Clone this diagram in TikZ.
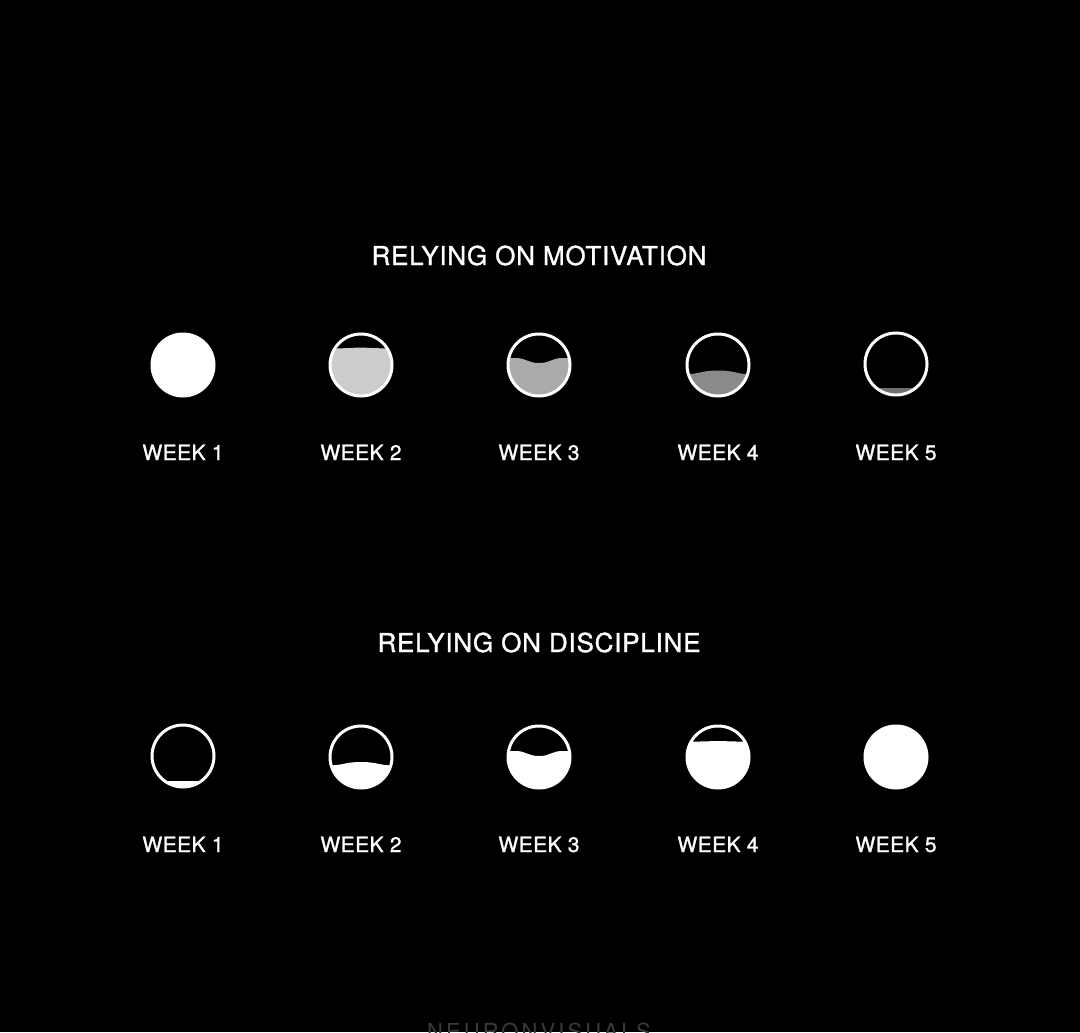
\documentclass[tikz,border=0pt]{standalone}
\usepackage{fontspec}
\setmainfont{TeX Gyre Heros}[FakeBold=1.2,LetterSpace=2]
\newfontfamily\titlefont{TeX Gyre Heros}[LetterSpace=3,FakeBold=1.2]
\newfontfamily\markfont{TeX Gyre Heros}[LetterSpace=14]
\usepackage{xcolor}
\usepackage{tikz}

\definecolor{fillA}{HTML}{CCCCCC}
\definecolor{fillB}{HTML}{AAAAAA}
\definecolor{fillC}{HTML}{8A8A8A}
\definecolor{fillD}{HTML}{6E6E6E}
\definecolor{markgray}{HTML}{3A3A3A}

% a glass: centre x, centre y, name, surface above centre, wave height, wave half-width, colour
\newcommand{\glass}[7]{%
  \coordinate (#3) at (#1,#2);
  \begin{scope}[shift={(#1,#2)}]
    \clip (0,0) circle (15pt);
    \fill[#7] (-40,-#4) -- (-#6,-#4)
      .. controls ({-(#6)/2},-#4) and ({-(#6)/2},{-(#4)-(#5)}) .. (0,{-(#4)-(#5)})
      .. controls ({(#6)/2},{-(#4)-(#5)}) and ({(#6)/2},-#4) .. (#6,-#4)
      -- (40,-#4) -- (40,40) -- (-40,40) -- cycle;
  \end{scope}
  \draw[ring] (#3) circle (15.5pt);
}

\begin{document}
\begin{tikzpicture}[x=0.5pt, y=-0.5pt,
    ring/.style={white, line width=1.5pt},
    title/.style={white, font=\titlefont\fontsize{13}{15}\selectfont, anchor=base},
    week/.style={white, font=\fontsize{10.5}{12}\selectfont, anchor=base}]

    % Background
    \useasboundingbox (0,0) rectangle (1080,1032);
    \fill[black] (0,0) rectangle (1080,1032);
    \clip (0,0) rectangle (1080,1032);

    % Relying on motivation
    \node[title] (motivation) at (539,265) {RELYING ON MOTIVATION};
    \fill[white] (183,365) circle (16.25pt);
    \coordinate (m1) at (183,365);
    \glass{361}{365}{m2}{16}{1.5}{36}{fillA}
    \glass{539}{365}{m3}{7}{-5}{24}{fillB}
    \glass{718}{365}{m4}{-9.5}{4}{36}{fillC}
    \glass{896}{364}{m5}{-24}{0}{30}{fillD}

    \node[week] (m1l) at (183,460) {WEEK 1};
    \node[week] (m2l) at (361,460) {WEEK 2};
    \node[week] (m3l) at (539,460) {WEEK 3};
    \node[week] (m4l) at (718,460) {WEEK 4};
    \node[week] (m5l) at (896,460) {WEEK 5};

    % Relying on discipline
    \node[title] (discipline) at (539,652) {RELYING ON DISCIPLINE};
    \glass{183}{756}{d1}{-25}{0}{30}{white}
    \glass{361}{757}{d2}{-8.5}{3.5}{34}{white}
    \glass{539}{757}{d3}{6}{-5}{24}{white}
    \glass{718}{757}{d4}{15}{1}{36}{white}
    \fill[white] (896,757) circle (16.25pt);
    \coordinate (d5) at (896,757);

    \node[week] (d1l) at (183,852) {WEEK 1};
    \node[week] (d2l) at (361,852) {WEEK 2};
    \node[week] (d3l) at (539,852) {WEEK 3};
    \node[week] (d4l) at (718,852) {WEEK 4};
    \node[week] (d5l) at (896,852) {WEEK 5};

    % Watermark, cut off by the bottom edge
    \node[markgray, font=\markfont\fontsize{11}{13}\selectfont, anchor=base] (mark) at (539,1039) {NEURONVISUALS};
\end{tikzpicture}
\end{document}
